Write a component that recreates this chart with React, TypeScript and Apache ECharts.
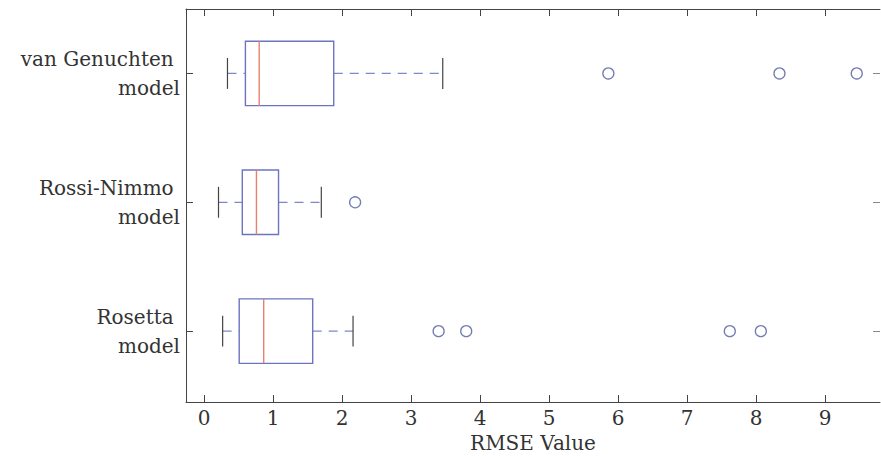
import React, { useEffect, useRef } from "react";
import * as echarts from "echarts";

// Box-plot statistics (RMSE), ordered bottom to top: position 1, 2, 3
const categories = ["Rosetta\u00a0\nmodel", "Rossi-Nimmo\u00a0\nmodel", "van Genuchten\u00a0\nmodel"];
const positions = [1, 2, 3];
const lowerWhisker = [0.27, 0.21, 0.34];
const q1 = [0.51, 0.555, 0.6];
const median = [0.865, 0.76, 0.8];
const q3 = [1.575, 1.08, 1.88];
const upperWhisker = [2.16, 1.7, 3.46];
const outliers = [
  [3.4, 3.8, 7.62, 8.07],
  [2.19],
  [5.86, 8.34, 9.46],
];
const xTicks = [0, 1, 2, 3, 4, 5, 6, 7, 8, 9];

const FONT = "DejaVu Serif";
const BOX_COLOR = "#6c74c0";
const MEDIAN_COLOR = "#e8806e";
const WHISKER_COLOR = "#7c88cc";
const CAP_COLOR = "#444";
const AXIS_COLOR = "#444";

export default function App() {
  const ref = useRef<HTMLDivElement>(null);

  useEffect(() => {
    if (!ref.current) return;
    const chart = echarts.init(ref.current, null, { renderer: "svg" });

    const boxData = positions.map((p, i) => [p, lowerWhisker[i], q1[i], median[i], q3[i], upperWhisker[i]]);
    const outlierData: number[][] = [];
    outliers.forEach((arr, i) => arr.forEach((v) => outlierData.push([v, positions[i]])));

    const boxHalf = 0.25;
    const capHalf = 0.12;

    const renderItem = (params: any, api: any) => {
      const pos = api.value(0);
      const lo = api.value(1);
      const a = api.value(2);
      const m = api.value(3);
      const b = api.value(4);
      const hi = api.value(5);
      const pLo = api.coord([lo, pos]);
      const pA = api.coord([a, pos]);
      const pM = api.coord([m, pos]);
      const pB = api.coord([b, pos]);
      const pHi = api.coord([hi, pos]);
      const top = api.coord([a, pos + boxHalf])[1];
      const bot = api.coord([a, pos - boxHalf])[1];
      const capTop = api.coord([a, pos + capHalf])[1];
      const capBot = api.coord([a, pos - capHalf])[1];
      const y = pM[1];
      return {
        type: "group",
        children: [
          {
            type: "line",
            shape: { x1: pLo[0], y1: y, x2: pA[0], y2: y },
            style: { stroke: WHISKER_COLOR, lineWidth: 1.3, lineDash: [9, 7] },
          },
          {
            type: "line",
            shape: { x1: pB[0], y1: y, x2: pHi[0], y2: y },
            style: { stroke: WHISKER_COLOR, lineWidth: 1.3, lineDash: [9, 7] },
          },
          {
            type: "line",
            shape: { x1: pLo[0], y1: capTop, x2: pLo[0], y2: capBot },
            style: { stroke: CAP_COLOR, lineWidth: 1.2 },
          },
          {
            type: "line",
            shape: { x1: pHi[0], y1: capTop, x2: pHi[0], y2: capBot },
            style: { stroke: CAP_COLOR, lineWidth: 1.2 },
          },
          {
            type: "rect",
            shape: { x: pA[0], y: top, width: pB[0] - pA[0], height: bot - top },
            style: { fill: "none", stroke: BOX_COLOR, lineWidth: 1.4 },
          },
          {
            type: "line",
            shape: { x1: pM[0], y1: top, x2: pM[0], y2: bot },
            style: { stroke: MEDIAN_COLOR, lineWidth: 1.4 },
          },
        ],
      };
    };

    const xMin = -0.261;
    const xMax = 9.797;
    const yMin = 0.45;
    const yMax = 3.5;

    chart.setOption({
      animation: false,
      backgroundColor: "#ffffff",
      grid: { left: 186, right: 1, top: 9, bottom: 54, outerBoundsMode: "none", containLabel: false },
      xAxis: [
        {
          type: "value",
          min: xMin,
          max: xMax,
          position: "bottom",
          name: "RMSE Value",
          nameLocation: "middle",
          nameGap: 31,
          nameTextStyle: { fontFamily: FONT, fontSize: 20, color: "#333" },
          axisLine: { show: true, onZero: false, lineStyle: { color: AXIS_COLOR, width: 1 } },
          axisTick: { show: true, inside: true, length: 7, customValues: xTicks, lineStyle: { color: AXIS_COLOR } },
          axisLabel: {
            customValues: xTicks,
            fontFamily: FONT,
            fontSize: 20,
            color: "#333",
            margin: 6,
          },
          splitLine: { show: false },
        },
        {
          type: "value",
          min: xMin,
          max: xMax,
          position: "top",
          axisLine: { show: true, onZero: false, lineStyle: { color: AXIS_COLOR, width: 1 } },
          axisTick: { show: true, inside: true, length: 7, customValues: xTicks, lineStyle: { color: AXIS_COLOR } },
          axisLabel: { show: false },
          splitLine: { show: false },
        },
      ],
      yAxis: [
        {
          type: "value",
          min: yMin,
          max: yMax,
          position: "left",
          axisLine: { show: true, onZero: false, lineStyle: { color: AXIS_COLOR, width: 1 } },
          axisTick: { show: true, inside: true, length: 7, customValues: positions, lineStyle: { color: AXIS_COLOR } },
          axisLabel: {
            customValues: positions,
            formatter: (v: number) => categories[Math.round(v) - 1] ?? "",
            fontFamily: FONT,
            fontSize: 20,
            lineHeight: 29,
            color: "#333",
            align: "right",
            margin: 6,
          },
          splitLine: { show: false },
        },
        {
          type: "value",
          min: yMin,
          max: yMax,
          position: "right",
          axisLine: { show: false, onZero: false },
          axisTick: { show: true, inside: true, length: 7, customValues: positions, lineStyle: { color: "#888" } },
          axisLabel: { show: false },
          splitLine: { show: false },
        },
      ],
      series: [
        {
          type: "custom",
          xAxisIndex: 0,
          yAxisIndex: 0,
          renderItem,
          data: boxData,
          encode: { x: [1, 2, 3, 4, 5], y: 0 },
          silent: true,
          clip: false,
        },
        {
          type: "scatter",
          xAxisIndex: 0,
          yAxisIndex: 0,
          data: outlierData,
          symbol: "circle",
          symbolSize: 11,
          itemStyle: { color: "rgba(0,0,0,0)", borderColor: "#4f5c9c", borderWidth: 1.3 },
          silent: true,
        },
      ],
    });

    return () => chart.dispose();
  }, []);

  return (
    <div
      ref={ref}
      style={{ position: "fixed", left: 0, top: 0, width: 881, height: 456, background: "#fff" }}
    />
  );
}
